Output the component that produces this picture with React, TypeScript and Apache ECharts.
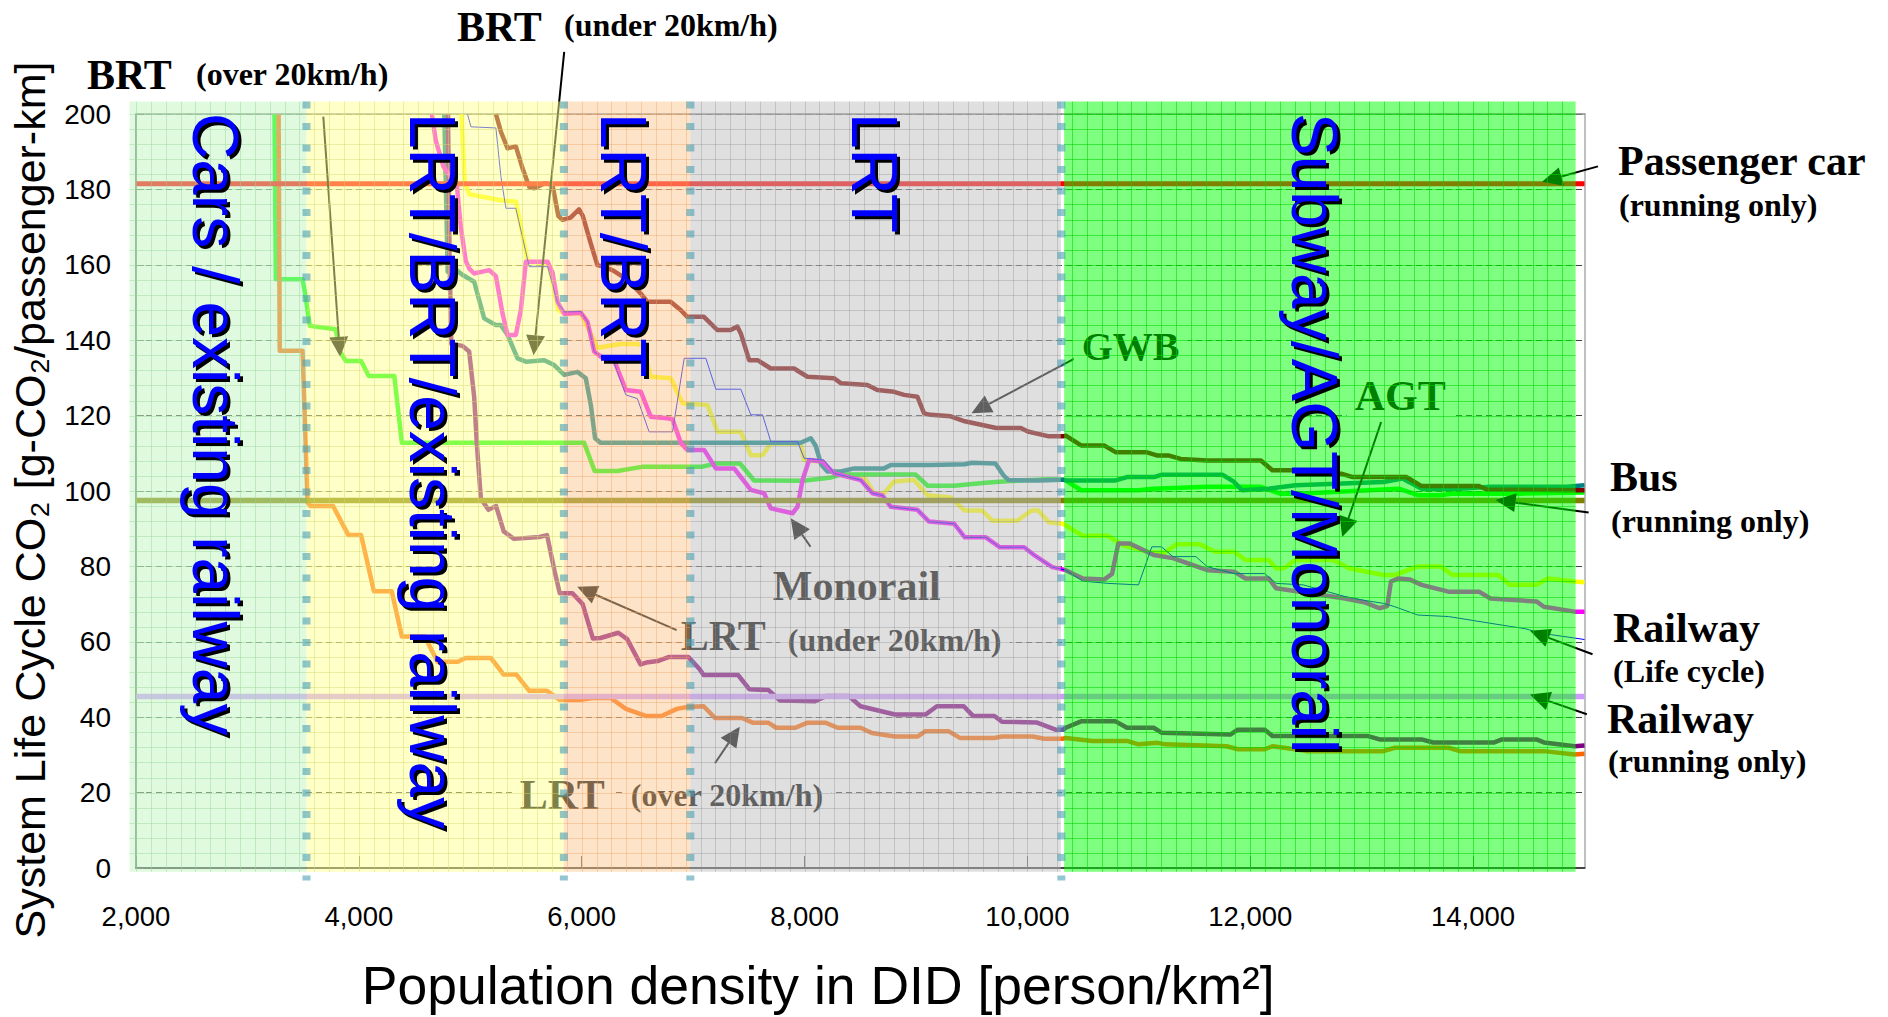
import React, { useEffect, useRef } from 'react';
import * as echarts from 'echarts';

type Pt = [number, number];

// ---------- axes ----------
const X_MIN = 2000;
const X_MAX = 15000;
const X_INTERVAL = 2000;
const Y_MIN = 0;
const Y_MAX = 200;
const Y_INTERVAL = 20;

// ---------- zones (population density ranges) ----------
const zoneStart = [1943, 3530, 5840, 6975, 10330];
const zoneEnd = [3530, 5840, 6975, 10300, 14920];
const zoneDividers = [3530, 5840, 6975, 10305];
const zoneNames = ['Cars / existing railway', 'LRT/BRT/existing railway', 'LRT/BRT', 'LRT', 'Subway/AGT/Monorail'];

// ---------- reference lines (running only) ----------
const passengerCar: Pt[] = [[2000, 181.5], [15000, 181.5]];
const busRunning: Pt[] = [[2000, 97.5], [15000, 97.5]];
const railwayRunning: Pt[] = [[2000, 45.5], [15000, 45.5]];

// ---------- system life cycle curves ----------
const gwb: Pt[] = [
  [5230, 200], [5275, 195.3], [5335, 190.9], [5409, 191.4], [5469, 185.6], [5529, 180.7], [5574, 180.3],
  [5664, 181.6], [5737, 181.3], [5790, 173], [5827, 171.9], [5900, 172.5], [5976, 174.7], [6010, 173],
  [6081, 165.7], [6141, 159.9], [6200, 159.5], [6280, 158.5], [6360, 157], [6439, 155.1], [6529, 152.4],
  [6589, 150.2], [6798, 150.2], [6888, 148], [6948, 146.2], [7097, 146.2], [7217, 142.7], [7336, 142.7],
  [7397, 143.6], [7428, 141.8], [7503, 134.7], [7578, 134.7], [7697, 132.5], [7906, 132.5], [8026, 130.3],
  [8265, 129.9], [8325, 128.6], [8564, 128.1], [8654, 126.8], [8804, 126.3], [8893, 125.5], [9013, 125],
  [9073, 120.6], [9132, 120.2], [9312, 119.8], [9438, 118.5], [9721, 116.7], [9941, 116.7], [10004, 115.8],
  [10193, 114.5], [10318, 114.5], [10344, 114.7], [10482, 112.1], [10688, 112.1], [10791, 110.3],
  [11066, 110.3], [11169, 109.4], [11272, 109.4], [11375, 108.5], [11615, 108.1], [12096, 108.1],
  [12199, 105.5], [12405, 105.5], [12508, 104.6], [12817, 104.6], [12920, 103.7], [13401, 103.7],
  [13538, 101.3], [14053, 101.3], [14121, 100.4], [14911, 100.2], [15000, 100.2],
];

const brtUnder20: Pt[] = [
  [4767, 200], [4785, 175], [4797, 158.2], [4860, 159], [4931, 157.3], [5035, 155.5], [5125, 145.8],
  [5230, 144], [5275, 144], [5335, 141.4], [5424, 135.2], [5499, 134.3], [5664, 134.7], [5753, 133.4],
  [5843, 130.8], [5962, 131.6], [6037, 129.9], [6082, 122.8], [6120, 114], [6169, 112.8], [7966, 112.8],
  [8056, 114], [8100, 112], [8150, 107], [8205, 105.2], [8325, 105.2], [8445, 106], [8714, 106],
  [8774, 106.9], [9132, 106.9], [9438, 107.1], [9500, 107.5], [9713, 107.3], [9790, 104], [9832, 102.9],
  [10100, 102.8], [10318, 103], [10344, 102.8], [10791, 102.8], [10894, 103.7], [11134, 103.7],
  [11203, 104.3], [11753, 104.3], [11856, 102.4], [11925, 100.2], [12165, 100.6], [12405, 101.5],
  [13195, 102.4], [13367, 103.3], [13538, 100.6], [13882, 100.6], [14157, 101.1], [14843, 101.1],
  [15000, 101.5],
];

const brtOver20: Pt[] = [
  [3243, 200], [3255, 156.2], [3495, 156.2], [3520, 152], [3560, 143.8], [3792, 142.9], [3830, 137],
  [3883, 134.5], [4020, 134.5], [4089, 130.5], [4318, 130.5], [4386, 112.8], [6022, 112.8], [6116, 105.3],
  [6320, 105.3], [6541, 106.4], [7075, 106.4], [7201, 107.3], [7421, 107.3], [7547, 102.8], [7673, 102.8],
  [7988, 102.7], [8240, 103.6], [8334, 104.4], [8995, 104.4], [9105, 101.4], [9341, 101.4], [9624, 102.2],
  [9813, 102.6], [10192, 103.1], [10318, 103], [10344, 102.8], [10482, 100.2], [10997, 100.2],
  [11134, 100.6], [11615, 101.1], [12096, 101.1], [12268, 99.3], [12439, 99.3], [13333, 100.6],
  [13504, 98.9], [13711, 98.9], [13814, 99.3], [14430, 99.3], [15000, 99.6],
];

const agt: Pt[] = [
  [4920, 200], [4950, 182], [4991, 178.7], [5261, 177.2], [5411, 176.7], [5515, 160.8], [5700, 160.5],
  [5790, 148], [5843, 147.1], [5992, 147.1], [6142, 138], [6350, 139], [6501, 139], [6546, 138.5],
  [6620, 130.3], [6800, 129.9], [6905, 123.3], [7129, 122.8], [7219, 115.7], [7428, 115.7], [7518, 109.5],
  [7623, 109.5], [7697, 112.6], [7966, 112.6], [7996, 108.2], [8145, 107.8], [8265, 104.7], [8534, 103.8],
  [8624, 99.4], [8714, 99.4], [8804, 102.5], [8983, 102.9], [9103, 98.9], [9311, 98.3], [9437, 94.8],
  [9594, 94.8], [9689, 92.1], [9909, 92.1], [10035, 94.8], [10098, 94.8], [10192, 91.7], [10318, 91.3],
  [10344, 90.9], [10497, 88.1], [10722, 88.1], [10860, 85.6], [11100, 83.7], [11237, 83.7], [11340, 85.9],
  [11546, 85.9], [11684, 83.9], [11855, 83.9], [11958, 81.7], [12165, 81.7], [12233, 79.5], [12302, 79.5],
  [12405, 81.7], [12747, 81.7], [12884, 79.5], [13195, 77.7], [13298, 77.7], [13504, 80], [13711, 80],
  [13814, 77.7], [14226, 77.7], [14329, 75.1], [14568, 75.1], [14671, 76.8], [14911, 76], [15000, 75.8],
];

const monorail: Pt[] = [
  [4655, 200], [4690, 193], [4760, 186], [4880, 181], [4915, 170], [4960, 161], [4991, 159], [5035, 157.7],
  [5170, 158.6], [5230, 157], [5290, 147], [5335, 141.4], [5409, 141.4], [5454, 148], [5499, 160.8],
  [5694, 160.8], [5738, 158], [5783, 150.2], [5843, 147], [5992, 147.3], [6052, 144.9], [6112, 137],
  [6172, 135.6], [6291, 134.7], [6396, 126.8], [6531, 126.3], [6620, 119.7], [6770, 119.3], [6815, 119],
  [6890, 112.7], [6949, 110.9], [7099, 110.9], [7204, 106], [7368, 106], [7518, 100.3], [7637, 99.4],
  [7697, 95.4], [7892, 94.1], [7937, 95.8], [7982, 102.9], [8041, 108.2], [8161, 107.8], [8265, 104.7],
  [8504, 102.9], [8609, 99.4], [8700, 98.8], [8774, 95.8], [9013, 95], [9118, 91.9], [9344, 91.3],
  [9438, 87.7], [9627, 87.7], [9751, 85.1], [9971, 85.1], [10065, 82.9], [10224, 79.8], [10344, 79],
  [10497, 76.8], [10688, 76.5], [10760, 78], [10816, 86.1], [10919, 86.1], [11134, 83], [11306, 82.2],
  [11615, 79], [11855, 78.6], [11958, 76.8], [12165, 76.8], [12233, 74.2], [12851, 71.5], [13023, 70.5],
  [13160, 68.9], [13230, 69.5], [13263, 76], [13332, 76.8], [13435, 76.5], [13538, 75.1], [13779, 73.3],
  [14053, 73.3], [14156, 71.5], [14568, 70.7], [14636, 69.3], [14911, 68], [15000, 68],
];

const railwayLifeCycle: Pt[] = [
  [4975, 200], [5006, 196.6], [5230, 196.3], [5275, 183.4], [5320, 175], [5409, 175], [5529, 159.5],
  [5694, 159.5], [5783, 150], [5843, 147.5], [5992, 147.6], [6052, 144.9], [6112, 137], [6172, 135.6],
  [6291, 134], [6396, 125.5], [6500, 124.5], [6605, 115.7], [6815, 115.7], [6920, 135.2], [7114, 135.2],
  [7204, 127], [7428, 127], [7518, 120.2], [7623, 120.2], [7697, 113.1], [7937, 113.1], [7996, 108.7],
  [8175, 108.2], [8265, 104.7], [8504, 102.9], [8609, 99.4], [8700, 98.8], [8774, 95.8], [9013, 95],
  [9118, 91.9], [9344, 91.3], [9438, 87.7], [9627, 87.7], [9751, 85.1], [9971, 85.1], [10065, 82.9],
  [10224, 79.8], [10344, 79], [10497, 76.1], [10722, 75.5], [10997, 75.1], [11117, 85.2], [11203, 85.2],
  [11306, 82.6], [11512, 82.6], [11615, 79.9], [11855, 78.1], [12130, 78.1], [12233, 75.5], [12474, 75.1],
  [12851, 72], [13023, 71], [13195, 70.2], [13298, 69.3], [13504, 67.1], [13779, 66.7], [14053, 65.4],
  [14328, 64.1], [14465, 63.5], [14602, 62.3], [14911, 61], [15000, 60.6],
];

const lrtUnder20: Pt[] = [
  [4800, 200], [4815, 160], [4830, 139], [4930, 138.5], [4990, 137], [5035, 125], [5060, 112], [5095, 98],
  [5163, 95], [5232, 96], [5300, 89.3], [5392, 87.3], [5620, 87.8], [5689, 88.3], [5757, 78.7],
  [5803, 72.9], [5917, 72.9], [6009, 70], [6100, 60.9], [6169, 61], [6329, 62.4], [6408, 60.7], [6528, 54],
  [6579, 54.5], [6682, 54.9], [6785, 56], [6956, 56], [7059, 52.7], [7094, 51.2], [7403, 51.2],
  [7506, 47.4], [7677, 47.2], [7781, 44.4], [8089, 44.2], [8192, 45.6], [8399, 45.6], [8502, 42.9],
  [8811, 40.7], [9085, 40.7], [9188, 42.9], [9429, 42.9], [9514, 40.3], [9704, 40.3], [9772, 38.8],
  [10081, 38.6], [10253, 36.7], [10322, 36.7], [10344, 37.2], [10482, 38.9], [10791, 38.9], [10894, 37.2],
  [11134, 37.2], [11203, 35.9], [11821, 35.4], [11888, 36.7], [12130, 36.7], [12199, 35], [13058, 35],
  [13161, 34.1], [13538, 34.1], [13641, 33.3], [14190, 33.3], [14259, 34.1], [14568, 34.1], [14636, 33.3],
  [14911, 32.3], [15000, 32.5],
];

const lrtOver20: Pt[] = [
  [3280, 200], [3290, 137.2], [3495, 137.2], [3540, 97], [3563, 96], [3769, 96], [3906, 88.3], [4020, 88.3],
  [4135, 73.4], [4295, 73.4], [4386, 61.4], [4592, 61.4], [4706, 54.7], [4889, 54.7], [4958, 55.7],
  [5186, 55.7], [5300, 51.3], [5414, 51.3], [5529, 47], [5689, 47], [5803, 44.6], [5986, 44.6],
  [6100, 45.1], [6260, 45.1], [6397, 42.2], [6580, 40.3], [6717, 40.3], [6854, 42.2], [6946, 42.7],
  [7094, 42.9], [7197, 39.8], [7437, 39.8], [7540, 38.5], [7677, 38.5], [7746, 37.2], [7918, 37.2],
  [8021, 38.5], [8192, 38.5], [8296, 37.2], [8502, 37.2], [8605, 35.8], [8811, 34.9], [9017, 34.9],
  [9085, 36.3], [9291, 36.3], [9394, 34.5], [9703, 34.5], [9772, 34.9], [10048, 34.9], [10150, 34.3],
  [10323, 34.3], [10344, 34.5], [10584, 33.7], [10894, 33.7], [10997, 32.8], [11169, 33.2], [11237, 32.8],
  [11787, 32.3], [11890, 31.5], [12130, 31.5], [12199, 32.3], [12302, 31.9], [12508, 31], [13195, 31],
  [13298, 31.9], [13780, 31.9], [13883, 31], [14636, 31], [14911, 30.1], [15000, 30.3],
];

// ---------- styles (kept apart from data) ----------
const zoneFill = [
  'rgba(193,245,193,0.5)',
  'rgba(255,255,145,0.5)',
  'rgba(251,201,145,0.5)',
  'rgba(192,192,192,0.5)',
  'rgba(0,255,0,0.5)',
];
const zoneGrid = [
  'rgba(150,215,150,0.45)',
  'rgba(215,215,110,0.45)',
  'rgba(235,160,100,0.4)',
  'rgba(140,140,140,0.35)',
  'rgba(0,215,0,0.55)',
];
const ZONE_TOP = 203.3;
const ZONE_BOTTOM = -1;
const MINOR_X = 2000 / 15;
const MINOR_Y = 4;

const SANS = '"Liberation Sans", Arial, sans-serif';
const SERIF = '"Liberation Serif", "Times New Roman", serif';

const curveSeries = [
  { name: 'AGT', data: agt, color: '#ffff00', width: 4.5 },
  { name: 'BRT (over 20km/h)', data: brtOver20, color: '#00ff00', width: 4.5 },
  { name: 'BRT (under 20km/h)', data: brtUnder20, color: '#008080', width: 4.5 },
  { name: 'GWB', data: gwb, color: '#800000', width: 4.5 },
  { name: 'LRT (under 20km/h)', data: lrtUnder20, color: '#800080', width: 4.5 },
  { name: 'LRT (over 20km/h)', data: lrtOver20, color: '#ff6600', width: 4.5 },
  { name: 'Monorail', data: monorail, color: '#ff00ff', width: 4.5 },
  { name: 'Railway (Life cycle)', data: railwayLifeCycle, color: '#0000ff', width: 1 },
  { name: 'Passenger car (running only)', data: passengerCar, color: '#ff0000', width: 5 },
  { name: 'Bus (running only)', data: busRunning, color: '#808000', width: 5.5 },
  { name: 'Railway (running only)', data: railwayRunning, color: '#cc99ff', width: 5.5 },
];

// ---------- annotations ----------
const arrowDefs: { tail: Pt; tip: Pt }[] = [
  { tail: [3681, 199.3], tip: [3832, 135.6] },
  { tail: [5843, 216.5], tip: [5568, 136] },
  { tail: [10448, 135.5], tip: [9498, 120.6] },
  { tail: [8054, 85.2], tip: [7876, 92.8] },
  { tail: [13175, 118.3], tip: [12825, 87.8] },
  { tail: [6852, 63.1], tip: [5960, 74.6] },
  { tail: [7196, 27.8], tip: [7419, 37.5] },
  { tail: [15121, 186.1], tip: [14619, 182] },
  { tail: [15037, 94.3], tip: [14202, 97.6] },
  { tail: [15072, 56.7], tip: [14511, 62.9] },
  { tail: [15021, 40.8], tip: [14511, 46] },
];

const plotLabels: { text: string; at: Pt; size: number; bg: boolean }[] = [
  { text: 'GWB', at: [10487, 138.2], size: 40, bg: true },
  { text: 'AGT', at: [12937, 125.2], size: 42, bg: true },
  { text: 'Monorail', at: [7715, 74.8], size: 42, bg: true },
  { text: 'LRT', at: [6890, 61.5], size: 42, bg: false },
  { text: '(under 20km/h)', at: [7850, 60.5], size: 32, bg: true },
  { text: 'LRT', at: [5445, 19.4], size: 42, bg: true },
  { text: '(over 20km/h)', at: [6441, 19.4], size: 32, bg: true },
];

const sideLabels: { text: string; x: number; y: number; size: number }[] = [
  { text: 'BRT', x: 87, y: 75, size: 42 },
  { text: '(over 20km/h)', x: 196, y: 74, size: 32 },
  { text: 'BRT', x: 457, y: 27, size: 42 },
  { text: '(under 20km/h)', x: 564, y: 25, size: 32 },
  { text: 'Passenger car', x: 1618, y: 161, size: 42 },
  { text: '(running only)', x: 1619, y: 205, size: 32 },
  { text: 'Bus', x: 1610, y: 477, size: 42 },
  { text: '(running only)', x: 1611, y: 521, size: 32 },
  { text: 'Railway', x: 1613, y: 628, size: 42 },
  { text: '(Life cycle)', x: 1613, y: 671, size: 32 },
  { text: 'Railway', x: 1607, y: 719, size: 42 },
  { text: '(running only)', x: 1608, y: 761, size: 32 },
];

const zoneTextX = [215, 432, 623, 874, 1314];
const ZONE_TEXT_TOP = 113;
const ZONE_TEXT_SIZE = 64;

function renderZone(params: any, api: any) {
  const i = params.dataIndex;
  const x0 = api.value(0);
  const x1 = api.value(1);
  const tl = api.coord([x0, ZONE_TOP]);
  const br = api.coord([x1, ZONE_BOTTOM]);
  const children: any[] = [
    {
      type: 'rect',
      shape: { x: tl[0], y: tl[1], width: br[0] - tl[0], height: br[1] - tl[1] },
      style: { fill: zoneFill[i] },
    },
  ];
  const k0 = Math.ceil((x0 - X_MIN) / MINOR_X);
  for (let k = k0; X_MIN + k * MINOR_X < x1; k++) {
    const v = X_MIN + k * MINOR_X;
    if (v <= x0) continue;
    const px = Math.round(api.coord([v, 0])[0]) + 0.5;
    children.push({
      type: 'line',
      shape: { x1: px, y1: tl[1], x2: px, y2: br[1] },
      style: { stroke: zoneGrid[i], lineWidth: 1 },
    });
  }
  for (let y = Y_MIN + MINOR_Y; y < Y_MAX + 3; y += MINOR_Y) {
    const py = Math.round(api.coord([x0, y])[1]) + 0.5;
    children.push({
      type: 'line',
      shape: { x1: tl[0], y1: py, x2: br[0], y2: py },
      style: { stroke: zoneGrid[i], lineWidth: 1 },
    });
  }
  return { type: 'group', children };
}

function renderDivider(params: any, api: any) {
  const x = api.value(0);
  const top = api.coord([x, ZONE_TOP]);
  const bot = api.coord([x, -3.3]);
  return {
    type: 'line',
    shape: { x1: top[0], y1: top[1], x2: bot[0], y2: bot[1] },
    style: { stroke: 'rgba(75,160,180,0.6)', lineWidth: 8, lineDash: [7, 14.5], lineCap: 'butt' },
  };
}

function buildOption(): any {
  return {
    animation: false,
    backgroundColor: '#ffffff',
    grid: { left: 135, top: 114, width: 1449.5, height: 754, containLabel: false },
    xAxis: [
      {
        type: 'value',
        min: X_MIN,
        max: X_MAX,
        interval: X_INTERVAL,
        name: 'Population density in DID [person/km²]',
        nameLocation: 'middle',
        nameGap: 90,
        nameTextStyle: { fontFamily: SANS, fontSize: 53.5, color: '#000', padding: [0, 84, 0, 0] },
        axisLine: { show: true, onZero: false, lineStyle: { color: '#444', width: 2 } },
        axisTick: { show: true, inside: true, length: 12, lineStyle: { color: '#555', width: 1 } },
        axisLabel: {
          fontFamily: SANS,
          fontSize: 27.5,
          color: '#000',
          margin: 34,
          showMaxLabel: false,
          formatter: (v: number) => (v >= X_MAX ? '' : v.toLocaleString('en-US')),
        },
        splitLine: { show: false },
      },
      {
        type: 'value',
        position: 'top',
        min: X_MIN,
        max: X_MAX,
        axisLine: { show: true, onZero: false, lineStyle: { color: '#888', width: 1.5 } },
        axisTick: { show: false },
        axisLabel: { show: false },
        splitLine: { show: false },
      },
    ],
    yAxis: [
      {
        type: 'value',
        min: Y_MIN,
        max: Y_MAX,
        interval: Y_INTERVAL,
        name: 'System Life Cycle CO₂ [g-CO₂/passenger-km]',
        nameLocation: 'middle',
        nameRotate: 90,
        nameGap: 85,
        nameTextStyle: { fontFamily: SANS, fontSize: 43, color: '#000', padding: [0, 18, 0, 0] },
        axisLine: { show: true, onZero: false, lineStyle: { color: '#555', width: 1.5 } },
        axisTick: { show: true, inside: true, length: 8, lineStyle: { color: '#555' } },
        axisLabel: { fontFamily: SANS, fontSize: 28, color: '#000', margin: 25 },
        splitLine: { show: true, lineStyle: { color: '#444', width: 1, type: [6, 4] } },
      },
      {
        type: 'value',
        position: 'right',
        min: Y_MIN,
        max: Y_MAX,
        axisLine: { show: true, onZero: false, lineStyle: { color: '#c0c0c0', width: 2 } },
        axisTick: { show: false },
        axisLabel: { show: false },
        splitLine: { show: false },
      },
    ],
    series: [
      ...curveSeries.map((s) => ({
        type: 'line',
        name: s.name,
        data: s.data,
        xAxisIndex: 0,
        yAxisIndex: 0,
        showSymbol: false,
        symbol: 'none',
        z: 2,
        silent: true,
        lineStyle: { color: s.color, width: s.width, join: 'round', cap: 'butt' },
        itemStyle: { color: s.color },
      })),
      {
        type: 'custom',
        name: 'zones',
        xAxisIndex: 0,
        yAxisIndex: 0,
        z: 10,
        silent: true,
        clip: false,
        renderItem: renderZone,
        data: zoneStart.map((s, i) => [s, zoneEnd[i], i]),
      },
      {
        type: 'custom',
        name: 'zone dividers',
        xAxisIndex: 0,
        yAxisIndex: 0,
        z: 11,
        silent: true,
        clip: false,
        renderItem: renderDivider,
        data: zoneDividers.map((v) => [v, 0]),
      },
    ],
  };
}

function buildGraphics(toPx: (p: Pt) => number[]): any[] {
  const els: any[] = [];
  // arrows (drawn beneath the translucent zone overlay)
  arrowDefs.forEach((a) => {
    const [tx, ty] = toPx(a.tail);
    const [hx, hy] = toPx(a.tip);
    const ang = Math.atan2(hy - ty, hx - tx);
    const L = 20;
    const W = 9.5;
    const bx = hx - L * Math.cos(ang);
    const by = hy - L * Math.sin(ang);
    const nx = -Math.sin(ang) * W;
    const ny = Math.cos(ang) * W;
    els.push({
      type: 'line',
      z: 3,
      silent: true,
      shape: { x1: tx, y1: ty, x2: bx, y2: by },
      style: { stroke: '#000', lineWidth: 2 },
    });
    els.push({
      type: 'polygon',
      z: 3,
      silent: true,
      shape: { points: [[hx, hy], [bx + nx, by + ny], [bx - nx, by - ny]] },
      style: { fill: '#000' },
    });
  });
  // labels inside the plot (beneath overlay)
  plotLabels.forEach((l) => {
    const [px, py] = toPx(l.at);
    const pad = l.bg ? 8 : 0;
    els.push({
      type: 'text',
      z: 4,
      silent: true,
      x: px - pad,
      y: py,
      style: {
        text: l.text,
        fill: '#000',
        fontFamily: SERIF,
        fontWeight: 'bold',
        fontSize: l.size,
        align: 'left',
        verticalAlign: 'middle',
        backgroundColor: l.bg ? '#ffffff' : undefined,
        padding: l.bg ? [2, 8, 2, 8] : 0,
      },
    });
  });
  // labels outside the plot
  sideLabels.forEach((l) => {
    els.push({
      type: 'text',
      z: 30,
      silent: true,
      x: l.x,
      y: l.y,
      style: {
        text: l.text,
        fill: '#000',
        fontFamily: SERIF,
        fontWeight: 'bold',
        fontSize: l.size,
        align: 'left',
        verticalAlign: 'middle',
      },
    });
  });
  // zone names (vertical blue text with black shadow)
  zoneNames.forEach((name, i) => {
    const common = {
      rotation: -Math.PI / 2,
      silent: true,
    };
    els.push({
      type: 'text',
      z: 20,
      ...common,
      x: zoneTextX[i] + 2.5,
      y: ZONE_TEXT_TOP + 3,
      style: { text: name, fill: '#000', fontFamily: SANS, fontSize: ZONE_TEXT_SIZE, align: 'left', verticalAlign: 'middle' },
    });
    els.push({
      type: 'text',
      z: 21,
      ...common,
      x: zoneTextX[i],
      y: ZONE_TEXT_TOP,
      style: { text: name, fill: '#0000ff', fontFamily: SANS, fontSize: ZONE_TEXT_SIZE, align: 'left', verticalAlign: 'middle' },
    });
  });
  return els;
}

export default function App() {
  const ref = useRef<HTMLDivElement>(null);
  useEffect(() => {
    if (!ref.current) return;
    const chart = echarts.init(ref.current, null, { renderer: 'svg' });
    chart.setOption(buildOption());
    const toPx = (p: Pt) => chart.convertToPixel({ xAxisIndex: 0, yAxisIndex: 0 } as any, p) as number[];
    chart.setOption({ graphic: { elements: buildGraphics(toPx) } });
    return () => chart.dispose();
  }, []);
  return (
    <div
      ref={ref}
      style={{ position: 'fixed', left: 0, top: 0, width: 1888, height: 1017, background: '#fff' }}
    />
  );
}
